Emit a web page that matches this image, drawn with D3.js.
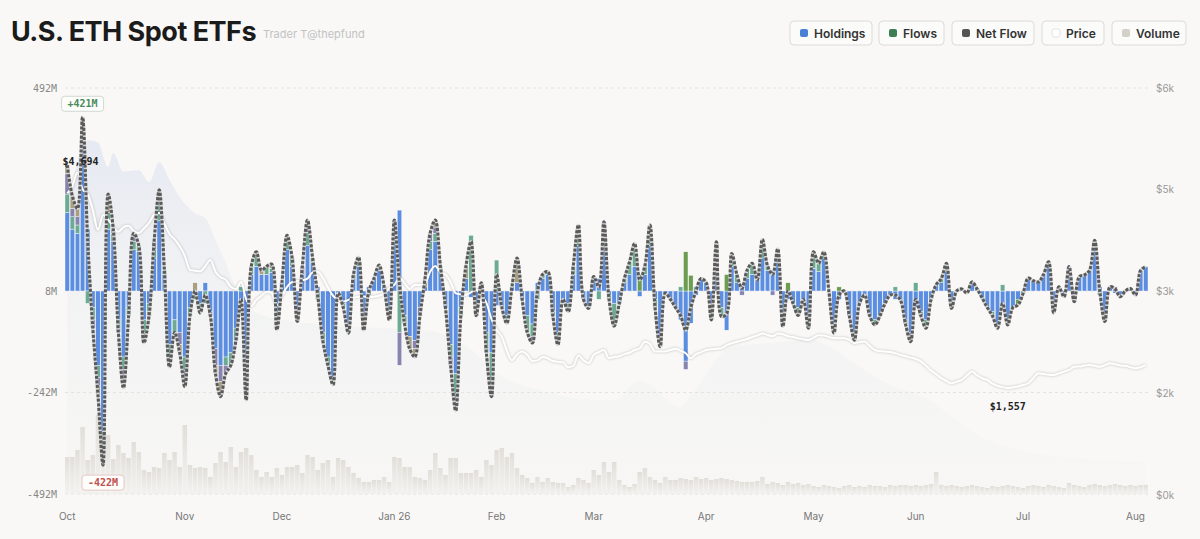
<!DOCTYPE html>
<html>
<head>
<meta charset="utf-8">
<script src="https://cdn.jsdelivr.net/npm/d3@7"></script>
<style>
  body { margin: 0; background: #f9f8f6; }
  svg { display: block; font-family: Inter, "Noto Sans", sans-serif; }
</style>
</head>
<body>
<div id="chart-area"></div>
<script>
// trading days Oct 2025 -> Aug 2026 (US market holidays skipped)
var holidays = ["2025-11-27", "2025-12-25", "2026-01-01", "2026-01-19", "2026-02-16",
  "2026-04-03", "2026-05-25", "2026-06-19", "2026-07-03"];
var monthLabels = ["Oct", "Nov", "Dec", "Jan 26", "Feb", "Mar", "Apr", "May", "Jun", "Jul", "Aug"];

// daily flows per fund, $M (rows = months)
var etha = [
  190,150,140,380,150,-40,-180,-340,150,120,-70,-160,-40,100,95,-70,-30,80,170,40,-130,-70,-100,
  -160,-40,0,-30,20,-50,-140,-180,-160,-150,-90,-30,-180,40,60,40,40,45,-60,
  20,100,60,-50,40,110,70,10,-100,-160,-210,-5,-30,-80,30,60,-70,10,30,50,10,-50,
  120,196,-60,-110,-120,-40,10,100,120,50,-40,-130,-200,-40,30,-15,-50,10,-100,-150,
  -35,-38,-60,10,20,-20,-60,-80,20,30,40,-50,-100,-20,-30,40,110,-20,-42,
  25,30,100,-10,-30,-30,20,40,60,-13,40,110,-20,-110,-5,-20,-40,-70,-170,-78,-10,30,
  20,-50,80,-40,-95,60,20,16,30,40,27,80,50,50,70,-56,-20,-30,-40,-20,-70,
  55,47,80,0,-80,-20,0,-60,-100,-30,-10,-60,-70,-60,-30,-10,-20,-22,-70,-100,
  -40,-50,-70,-20,15,20,47,-30,0,5,-5,22,5,-17,-40,-50,-80,-45,-70,-40,-20,
  0,31,25,22,40,60,-53,10,-14,59,-26,35,39,50,113,10,-60,10,-5,-14,0,6,
  -10,50,59
];
var feth = [
  45,30,20,0,-30,-30,-30,-40,40,20,-20,-30,-20,20,15,-30,-20,20,40,10,-34,-30,0,
  -32,-20,-20,-23,-30,0,0,0,-20,-30,-30,10,-44,20,25,0,20,10,-20,
  0,20,20,-24,0,32,10,-20,-20,-20,-17,0,-10,-22,10,22,0,-10,0,13,0,0,
  22,-100,-20,0,0,0,0,20,20,10,0,-30,-50,-20,0,135,0,10,-50,-80,
  75,0,-18,0,0,0,-40,-30,-20,10,7,-10,-30,0,-20,20,30,0,0,
  0,-20,48,-10,-55,0,10,30,40,0,20,30,-20,-25,0,0,0,10,0,0,10,0,
  0,-20,20,-22,0,20,20,0,20,27,0,30,11,0,20,-20,0,0,-19,0,-20,
  25,20,15,0,-22,0,0,0,-19,0,0,0,-12,0,0,0,10,0,-10,0,
  20,-10,-20,0,0,10,20,-12,0,0,0,0,0,0,0,-10,0,15,-12,0,0,
  -6,0,0,0,0,11,0,0,0,0,0,0,0,0,10,-10,-14,0,0,0,0,0,
  0,0,0
];
var ethe = [
  50,20,20,20,0,-20,-20,-20,0,0,-10,-25,0,10,0,0,0,20,15,0,-20,0,-30,
  -20,0,0,0,0,-10,-40,-40,-20,0,0,0,-20,0,10,0,0,0,0,
  0,0,0,0,20,20,0,0,0,0,0,0,0,0,0,0,-25,0,0,0,0,-20,
  20,-80,0,0,-20,-20,0,20,15,0,0,-20,-20,0,0,0,-10,0,0,-26,
  0,0,0,0,0,0,0,-16,0,0,0,0,0,0,0,0,0,0,0,
  0,0,20,0,0,0,0,0,15,0,0,0,0,0,0,0,0,0,-20,0,0,0,
  0,0,0,0,0,0,0,-10,0,0,0,15,0,-10,0,-10,0,0,0,0,0,
  0,0,0,0,0,0,0,0,0,0,0,0,0,0,0,0,0,0,0,-23,
  0,0,0,0,0,0,0,0,0,0,0,0,0,0,0,0,0,0,0,0,0,
  0,0,0,0,0,0,0,0,0,0,0,0,0,0,0,0,0,0,10,0,0,0,
  0,0,0
];
var ethw = [
  20,30,20,21,0,0,-20,-22,45,10,0,-20,0,10,0,-26,-10,0,20,0,0,0,-20,
  -20,0,20,0,0,0,-20,-36,0,0,0,0,-20,0,0,10,0,10,-14,
  0,15,0,0,0,10,0,0,0,0,0,0,0,0,0,0,0,0,0,0,0,0,
  10,0,0,-30,-20,0,20,0,17,0,0,0,-20,0,30,0,0,0,0,0,
  0,0,0,0,60,0,0,0,0,0,0,0,0,0,0,0,20,0,0,
  10,0,0,0,0,0,0,0,0,0,0,20,0,0,0,0,0,0,0,0,0,0,
  0,0,19,0,0,11,0,0,0,0,0,0,0,0,12,0,0,0,0,0,0,
  0,0,0,0,0,0,0,0,0,0,0,0,0,0,0,0,0,0,0,0,
  0,0,0,0,0,0,0,0,0,0,0,0,0,0,0,0,-10,0,0,0,0,
  0,0,0,0,0,0,0,0,0,0,0,0,0,0,0,0,0,0,0,0,0,0,
  0,0,0
];
var eth = [
  0,0,0,0,0,0,0,0,0,0,0,0,0,0,0,0,0,0,0,0,0,0,0,
  0,0,0,0,0,0,0,0,0,0,0,0,0,0,0,0,0,0,0,
  0,0,0,0,0,0,0,0,0,0,0,0,0,0,0,0,0,0,0,0,0,0,
  0,0,0,0,0,0,0,0,0,0,0,0,0,0,0,0,0,0,0,0,
  0,0,0,0,0,0,0,0,0,0,0,0,0,0,0,0,0,0,0,
  0,0,0,0,0,0,0,0,0,40,0,0,0,0,0,0,0,0,95,38,0,0,
  0,0,0,0,40,0,0,0,0,0,0,0,0,0,0,0,20,0,0,0,0,
  15,0,0,0,0,10,0,0,0,0,0,0,0,0,0,0,0,0,0,0,
  0,0,0,0,0,0,0,0,0,0,0,0,0,0,0,0,0,0,0,0,-14,
  0,0,0,0,0,0,0,0,0,0,0,0,0,0,0,0,0,0,0,0,0,0,
  0,0,0
];

// ETH price, $
var price = [
  4390,4500,4694,4450,4380,4150,3860,4077,4010,3900,3830,3900,3920,3840,3815,3880,3960,4080,4106,3950,3800,3720,3620,
  3480,3276,3265,3255,3330,3422,3250,3170,3135,3030,3000,3100,2850,2750,2840,2900,2960,2940,2760,
  2900,3030,3100,3115,3125,3150,3240,3250,3160,3020,2900,2840,2815,2840,2870,2887,2890,2880,2885,2900,2930,3010,
  3060,3160,3080,3000,3058,3058,3080,3250,3334,3240,3210,3100,2937,2920,2912,2950,2985,2900,2800,2560,
  2402,2305,2100,1960,2050,2087,2040,1950,1960,2010,1990,1950,1940,1930,1860,1880,2030,1960,1920,
  2040,2080,2111,1990,2010,2020,2050,2070,2110,2136,2230,2200,2087,2087,2090,2110,2130,2100,2063,1990,2050,2080,
  2111,2120,2130,2136,2180,2209,2230,2250,2270,2300,2320,2350,2330,2310,2350,2340,2310,2300,2280,2265,2257,
  2290,2325,2320,2300,2285,2281,2281,2260,2209,2225,2233,2170,2111,2095,2087,2080,2063,2040,2020,2000,
  1980,1945,1880,1810,1760,1700,1660,1626,1650,1674,1740,1796,1740,1700,1674,1620,1590,1570,1557,1565,1580,
  1600,1626,1700,1772,1760,1750,1747,1770,1796,1820,1868,1870,1885,1893,1880,1868,1890,1917,1905,1885,1880,1860,
  1845,1860,1893
];

// trading volume, $B
var volume = [
  1.48,1.48,1.76,2.68,1.36,1.56,3.16,2.44,2.36,1.40,1.96,1.64,1.44,2.08,1.68,0.96,0.88,1.08,1.04,1.64,1.36,1.68,1.08,
  2.76,1.16,1.04,1.08,1.04,0.68,1.24,1.68,1.28,1.88,1.08,1.68,1.84,1.56,0.96,0.68,0.88,0.68,1.04,
  0.76,1.08,1.08,1.16,0.84,1.56,1.48,0.96,1.24,1.36,0.68,1.44,1.36,1.08,0.84,0.64,0.48,0.48,0.56,0.56,0.68,0.48,
  1.48,1.44,1.08,1.08,0.68,0.64,0.56,0.96,1.64,1.04,0.76,1.44,1.44,0.84,0.84,0.84,0.96,0.68,1.36,1.16,
  1.76,1.84,1.48,1.64,1.04,0.76,0.64,0.44,0.68,0.48,0.64,0.48,0.44,0.44,0.28,0.36,0.64,0.56,0.44,
  0.96,0.76,1.28,0.88,1.28,0.56,0.36,0.28,0.40,0.88,1.04,0.68,0.56,0.44,0.68,0.56,0.56,0.64,0.60,0.56,0.68,0.60,
  0.64,0.56,0.60,0.64,0.60,0.56,0.52,0.48,0.48,0.48,0.52,0.68,0.40,0.48,0.44,0.36,0.48,0.40,0.44,0.36,0.40,
  0.32,0.28,0.36,0.32,0.28,0.24,0.32,0.36,0.28,0.32,0.28,0.36,0.32,0.32,0.28,0.36,0.32,0.36,0.36,0.32,
  0.36,0.32,0.36,0.40,0.88,0.36,0.32,0.36,0.32,0.28,0.32,0.36,0.32,0.28,0.24,0.32,0.28,0.32,0.36,0.32,0.28,
  0.24,0.32,0.36,0.32,0.28,0.36,0.32,0.28,0.24,0.44,0.36,0.32,0.28,0.36,0.40,0.36,0.32,0.36,0.40,0.36,0.32,0.36,
  0.32,0.36,0.36
];

// total holdings, $B (sampled)
var holdDates = ["2025-10-01","2025-10-07","2025-10-09","2025-10-13","2025-10-14","2025-10-16","2025-10-21",
  "2025-10-23","2025-10-27","2025-10-29","2025-10-31","2025-11-05","2025-11-07","2025-11-11","2025-11-13",
  "2025-11-17","2025-11-20","2025-12-01","2025-12-12","2025-12-29","2026-01-12","2026-01-23","2026-02-03",
  "2026-02-12","2026-03-03","2026-03-06","2026-03-13","2026-03-25","2026-03-27","2026-04-09","2026-04-20",
  "2026-05-01","2026-05-06","2026-05-18","2026-05-26","2026-06-01","2026-06-18","2026-07-14","2026-08-05"];
var holdValues = [24.5,30.5,30.3,28.2,29.4,27.8,27.9,26.9,28.6,27.1,25.6,24.2,23.8,21.9,19.9,17.8,15.9,
  15.0,14.6,14.3,14.1,12.8,10.1,9.0,8.1,8.1,9.8,7.5,8.5,12.7,13.0,13.3,12.7,10.4,9.2,8.7,4.9,3.2,2.8];

var flowTickValues = [492, 0, -246, -492];
var flowTickLabels = ["492M", "8M", "-242M", "-492M"];
var priceMax = 5924;
var priceTickLabels = ["$0k", "$2k", "$3k", "$5k", "$6k"];

var legendItems = [
  {name: "Holdings", color: "#4a7fd6", x: 790, w: 82},
  {name: "Flows", color: "#3f7d52", x: 879, w: 65},
  {name: "Net Flow", color: "#555555", x: 952, w: 82},
  {name: "Price", color: "#ffffff", x: 1042, w: 62},
  {name: "Volume", color: "#d3d0c8", x: 1112, w: 74}
];

var funds = [
  {key: "etha", color: "#5b8de0", values: etha},
  {key: "feth", color: "#6caa94", values: feth},
  {key: "ethe", color: "#8884b0", values: ethe},
  {key: "ethw", color: "#a9a082", values: ethw},
  {key: "eth", color: "#6b9c50", values: eth}
];

var fmtDay = d3.utcFormat("%Y-%m-%d");
var days = d3.utcDay.range(new Date(Date.UTC(2025, 9, 1)), new Date(Date.UTC(2026, 7, 6)))
  .filter(function(d) { return d.getUTCDay() != 0 && d.getUTCDay() != 6; })
  .map(fmtDay)
  .filter(function(d) { return holidays.indexOf(d) < 0; });

var net = days.map(function(d, i) {
  return d3.sum(funds, function(f) { return f.values[i]; });
});

var width = 1200, height = 539;

var svg = d3.select("#chart-area").append("svg")
    .attr("width", width)
    .attr("height", height);

svg.append("rect").attr("width", width).attr("height", height).attr("fill", "#f9f8f6");

var defs = svg.append("defs");
var hg = defs.append("linearGradient").attr("id", "holdGrad")
    .attr("gradientUnits", "userSpaceOnUse").attr("x1", 0).attr("x2", 0).attr("y1", 135).attr("y2", 494);
hg.append("stop").attr("offset", 0).attr("stop-color", "#d4dcee").attr("stop-opacity", 0.55);
hg.append("stop").attr("offset", 0.45).attr("stop-color", "#e2e6ee").attr("stop-opacity", 0.3);
hg.append("stop").attr("offset", 1).attr("stop-color", "#eceef0").attr("stop-opacity", 0.15);

var vg = defs.append("linearGradient").attr("id", "volGrad")
    .attr("x1", 0).attr("x2", 0).attr("y1", 0).attr("y2", 1);
vg.append("stop").attr("offset", 0).attr("stop-color", "#e0ddd7").attr("stop-opacity", 0.95);
vg.append("stop").attr("offset", 1).attr("stop-color", "#efeeea").attr("stop-opacity", 0.6);

var blur = defs.append("filter").attr("id", "soft")
    .attr("x", "-5%").attr("y", "-20%").attr("width", "110%").attr("height", "140%");
blur.append("feGaussianBlur").attr("stdDeviation", 1.3);

// Scales
var x = d3.scaleBand()
    .domain(days)
    .range([65, 1148])
    .paddingInner(0.12);

var yFlow = d3.scaleLinear().domain([-492, 492]).range([494, 88]);
var yPrice = d3.scaleLinear().domain([0, priceMax]).range([495, 88]);
var yVol = d3.scaleLinear().domain([0, 4]).range([494, 394]);
var yHold = d3.scaleLinear().domain([0, 35]).range([494, 88]);

function cx(d) { return x(d) + x.bandwidth() / 2; }

// Title + legend
svg.append("text")
    .attr("x", 11).attr("y", 41)
    .attr("font-size", 27).attr("font-weight", 700)
    .attr("letter-spacing", -0.5)
    .attr("fill", "#1b1b1b")
    .text("U.S. ETH Spot ETFs");

svg.append("text")
    .attr("x", 263).attr("y", 38)
    .attr("font-size", 11)
    .attr("fill", "#c2c2c2")
    .text("Trader T@thepfund");

var leg = svg.selectAll(".legend").data(legendItems).enter()
  .append("g")
    .attr("class", "legend")
    .attr("transform", function(d) { return "translate(" + d.x + ",21)"; });

leg.append("rect")
    .attr("width", function(d) { return d.w; }).attr("height", 24)
    .attr("rx", 4)
    .attr("fill", "#fbfbfa")
    .attr("stroke", "#dcdbd8");
leg.append("rect")
    .attr("x", 10).attr("y", 8).attr("width", 8).attr("height", 8).attr("rx", 2)
    .attr("fill", function(d) { return d.color; })
    .attr("stroke", function(d) { return d.name == "Price" ? "#e2e2e2" : "none"; });
leg.append("text")
    .attr("x", 24).attr("y", 16.5)
    .attr("font-size", 12).attr("font-weight", 600)
    .attr("fill", "#333")
    .text(function(d) { return d.name; });

// Grid
svg.selectAll(".grid").data(flowTickValues).enter()
  .append("line")
    .attr("class", "grid")
    .attr("x1", 65).attr("x2", 1148)
    .attr("y1", function(d) { return yFlow(d); })
    .attr("y2", function(d) { return yFlow(d); })
    .attr("stroke", "#e4e2de")
    .attr("stroke-dasharray", "3,3");

// Holdings area
var holdData = holdDates.map(function(d, i) { return {d: d, v: holdValues[i]}; });
svg.append("path")
    .datum(holdData)
    .attr("fill", "url(#holdGrad)")
    .attr("d", d3.area()
        .x(function(d) { return cx(d.d); })
        .y0(494)
        .y1(function(d) { return yHold(d.v); })
        .curve(d3.curveMonotoneX));

// Volume bars
svg.selectAll(".vol").data(days).enter()
  .append("rect")
    .attr("class", "vol")
    .attr("x", function(d) { return x(d); })
    .attr("width", x.bandwidth())
    .attr("y", function(d, i) { return yVol(volume[i]); })
    .attr("height", function(d, i) { return 494 - yVol(volume[i]); })
    .attr("fill", "url(#volGrad)");

// Flow bars, stacked per fund (positive up, negative down)
var segs = [];
days.forEach(function(d, i) {
  var pos = 0, neg = 0;
  funds.forEach(function(f) {
    var v = f.values[i];
    if (!v) return;
    if (v > 0) { segs.push({d: d, y0: pos, y1: pos + v, c: f.color}); pos += v; }
    else { segs.push({d: d, y0: neg, y1: neg + v, c: f.color}); neg += v; }
  });
});

svg.selectAll(".bar").data(segs).enter()
  .append("rect")
    .attr("class", "bar")
    .attr("x", function(s) { return x(s.d); })
    .attr("width", x.bandwidth())
    .attr("y", function(s) { return yFlow(Math.max(s.y0, s.y1)); })
    .attr("height", function(s) { return Math.abs(yFlow(s.y0) - yFlow(s.y1)); })
    .attr("fill", function(s) { return s.c; })
    .attr("stroke", "#ffffff")
    .attr("stroke-width", 0.4);

// Price line
var priceLine = d3.line()
    .x(function(d) { return cx(d); })
    .y(function(d, i) { return yPrice(price[i]); })
    .curve(d3.curveMonotoneX);

svg.append("path").datum(days)
    .attr("fill", "none")
    .attr("stroke", "rgba(0,0,0,0.16)")
    .attr("stroke-width", 3)
    .attr("filter", "url(#soft)")
    .attr("d", priceLine);
svg.append("path").datum(days)
    .attr("fill", "none")
    .attr("stroke", "#ffffff")
    .attr("stroke-width", 2)
    .attr("d", priceLine);

// Net flow line: dark dashes over a light core
var netLine = d3.line()
    .x(function(d) { return cx(d); })
    .y(function(d, i) { return yFlow(net[i]); })
    .curve(d3.curveCatmullRom.alpha(0.5));

svg.append("path").datum(days)
    .attr("fill", "none")
    .attr("stroke", "#d4d4d4")
    .attr("stroke-width", 3.1)
    .attr("stroke-linejoin", "round")
    .attr("d", netLine);
svg.append("path").datum(days)
    .attr("fill", "none")
    .attr("stroke", "#5a5a5a")
    .attr("stroke-width", 3.1)
    .attr("stroke-dasharray", "3,1.6")
    .attr("d", netLine);

// Axes
var yAxisL = d3.axisLeft(yFlow)
    .tickValues(flowTickValues)
    .tickFormat(function(d, i) { return flowTickLabels[i]; })
    .tickSize(0).tickPadding(0);
svg.append("g")
    .attr("class", "y-axis axis")
    .attr("transform", "translate(57,0)")
    .call(yAxisL)
    .call(function(g) { g.select(".domain").remove(); })
    .selectAll("text")
    .attr("font-family", "'DejaVu Sans Mono', monospace")
    .attr("font-size", 10)
    .attr("fill", "#888");

var priceTicks = [0, 0.25, 0.5, 0.75, 1].map(function(t) { return t * priceMax; });
var yAxisR = d3.axisRight(yPrice)
    .tickValues(priceTicks)
    .tickFormat(function(d, i) { return priceTickLabels[i]; })
    .tickSize(0).tickPadding(0);
svg.append("g")
    .attr("class", "y-axis axis")
    .attr("transform", "translate(1156,0)")
    .call(yAxisR)
    .call(function(g) { g.select(".domain").remove(); })
    .selectAll("text")
    .attr("font-family", "Inter, 'Noto Sans', sans-serif")
    .attr("font-size", 10)
    .attr("fill", "#999");

var monthStarts = days.filter(function(d, i) { return i == 0 || d.slice(0, 7) != days[i - 1].slice(0, 7); });
var xAxis = d3.axisBottom(x)
    .tickValues(monthStarts)
    .tickFormat(function(d, i) { return monthLabels[i]; })
    .tickSize(0).tickPadding(0);
svg.append("g")
    .attr("class", "x-axis axis")
    .attr("transform", "translate(0,513)")
    .call(xAxis)
    .call(function(g) { g.select(".domain").remove(); })
    .selectAll("text")
    .attr("font-family", "Inter, 'Noto Sans', sans-serif")
    .attr("font-size", 10)
    .attr("fill", "#777");

// Max / min flow annotations
var iMax = d3.maxIndex(net), iMin = d3.minIndex(net);
function flowTag(i, up, txt, col, border) {
  var bx = cx(days[i]) - 21;
  var by = up ? yFlow(net[i]) - 21 : yFlow(net[i]) + 10;
  svg.append("rect")
      .attr("x", bx).attr("y", by).attr("width", 42).attr("height", 15).attr("rx", 3)
      .attr("fill", "#fdfdfc").attr("stroke", border);
  svg.append("text")
      .attr("x", bx + 21).attr("y", by + 11)
      .attr("text-anchor", "middle")
      .attr("font-family", "'DejaVu Sans Mono', monospace")
      .attr("font-size", 10).attr("font-weight", 600)
      .attr("fill", col)
      .text(txt);
}
flowTag(iMax, true, "+" + Math.round(net[iMax]) + "M", "#4b8a5c", "#cfd9d0");
flowTag(iMin, false, Math.round(net[iMin]) + "M", "#c0504d", "#e6c9c6");

// Price high / low labels
var pMax = d3.maxIndex(price), pMin = d3.minIndex(price);
svg.append("text")
    .attr("x", cx(days[pMax]) + 3).attr("y", yPrice(price[pMax]) - 8)
    .attr("text-anchor", "middle")
    .attr("font-family", "'DejaVu Sans Mono', monospace")
    .attr("font-size", 10).attr("font-weight", 700)
    .attr("fill", "#222")
    .text("$" + d3.format(",")(price[pMax]));
svg.append("text")
    .attr("x", cx(days[pMin])).attr("y", yPrice(price[pMin]) + 22)
    .attr("text-anchor", "middle")
    .attr("font-family", "'DejaVu Sans Mono', monospace")
    .attr("font-size", 10).attr("font-weight", 700)
    .attr("fill", "#222")
    .text("$" + d3.format(",")(price[pMin]));
</script>
</body>
</html>
